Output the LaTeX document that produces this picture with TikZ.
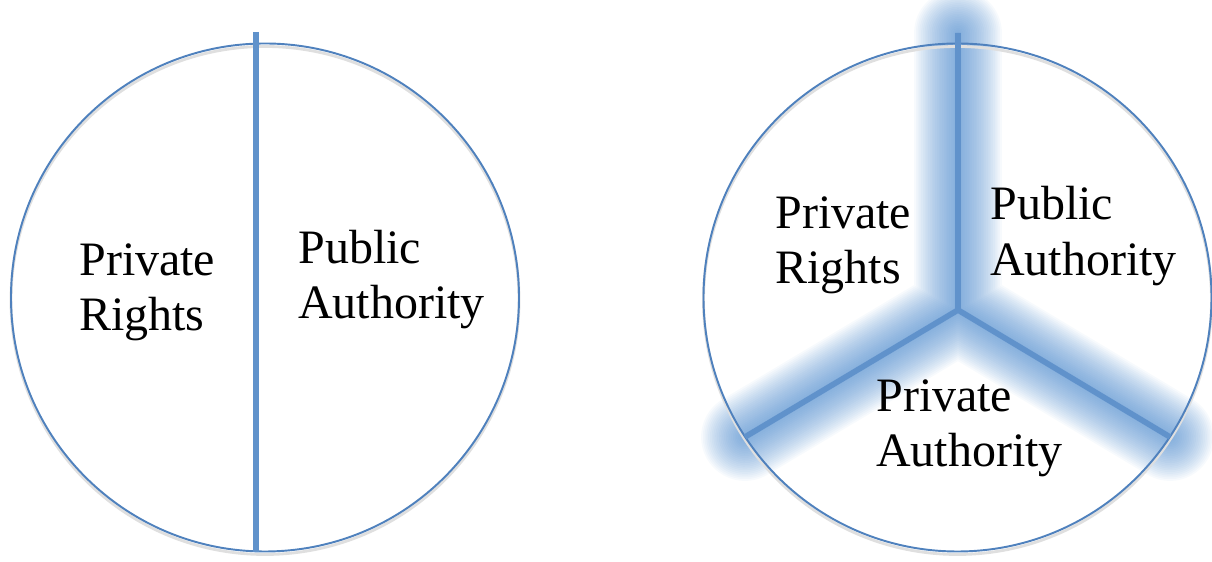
\documentclass[tikz,border=0pt]{standalone}
\usepackage{fontspec}
\setmainfont{Liberation Serif}
\definecolor{rimblue}{RGB}{79,129,189}
\definecolor{barblue}{RGB}{96,146,203}
\definecolor{glowblue}{RGB}{62,128,200}
\begin{document}
\begin{tikzpicture}[
    rim/.style={rimblue, line width=1.1pt},
    bar/.style={barblue, line width=3.2pt},
    label/.style={align=left, inner sep=0pt, anchor=west,
                  font=\fontsize{27.3}{31.5}\selectfont}]
    \useasboundingbox (0,0) rectangle (24.24,11.24);
    % two parts
    \coordinate (L) at (5.30,5.29);
    \coordinate (ltop) at (5.12,10.6);
    \coordinate (lbot) at (5.12,0.2);
    \draw[gray!25, line width=1.6pt] ([yshift=-0.6mm]L) circle (5.08);
    \draw[rim] (L) circle (5.08);
    \draw[bar] (ltop) -- (lbot);
    \node[label] (lrights) at (1.58,5.40) {Private\\Rights};
    \node[label] (lpublic) at (5.96,5.65) {Public\\Authority};
    % three parts
    \coordinate (R) at (19.15,5.29);
    \coordinate (hub) at (19.16,5.04);
    \coordinate (rtop) at (19.16,10.58);
    \coordinate (rleft) at (14.9,2.5);
    \coordinate (rright) at (23.4,2.5);
    \foreach \w in {2,4,...,50}
        \draw[glowblue, line width=\w pt, opacity=0.04, line cap=round, line join=round]
            (rtop) -- (hub) -- (rleft) (hub) -- (rright);
    \draw[gray!25, line width=1.6pt] ([yshift=-0.6mm]R) circle (5.08);
    \draw[rim] (R) circle (5.08);
    \draw[bar, line join=round] (rtop) -- (hub) -- (rleft) (hub) -- (rright);
    \node[label] (rrights) at (15.5,6.33) {Private\\Rights};
    \node[label] (rpublic) at (19.8,6.52) {Public\\Authority};
    \node[label] (rprivate) at (17.52,2.68) {Private\\Authority};
\end{tikzpicture}
\end{document}
